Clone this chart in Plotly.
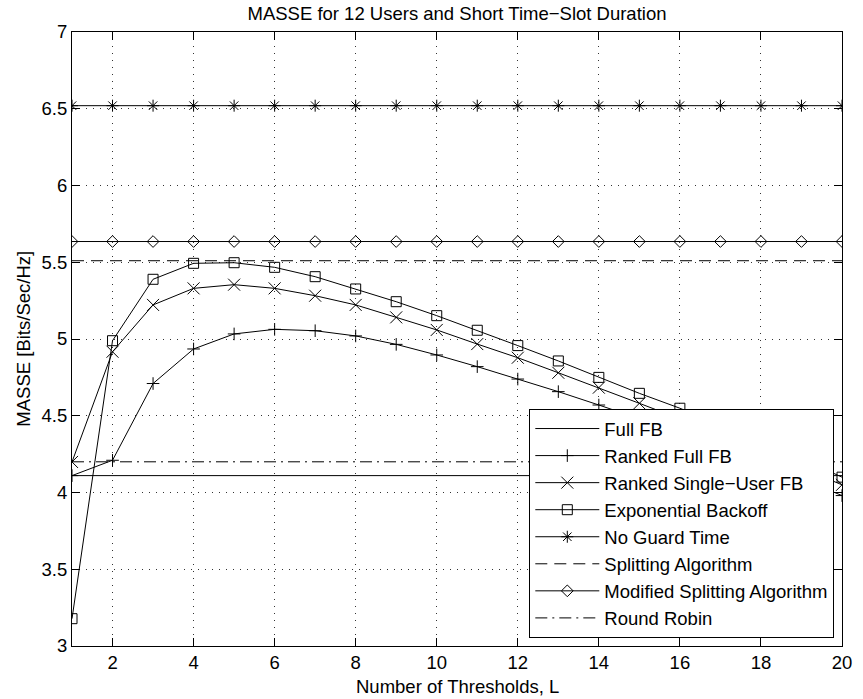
import plotly.graph_objects as go

L = list(range(1, 21))
full_fb = [4.11] * 20
ranked_full_fb = [4.11, 4.21, 4.71, 4.935, 5.033, 5.063, 5.054, 5.020, 4.965, 4.896,
                  4.820, 4.739, 4.657, 4.570, 4.48, 4.39, 4.29, 4.19, 4.09, 3.98]
ranked_single_fb = [4.199, 4.917, 5.222, 5.330, 5.354, 5.330, 5.282, 5.222, 5.141, 5.059,
                    4.967, 4.878, 4.780, 4.683, 4.581, 4.48, 4.38, 4.27, 4.16, 4.05]
exp_backoff = [3.178, 4.989, 5.389, 5.493, 5.497, 5.467, 5.406, 5.326, 5.243, 5.152,
               5.057, 4.957, 4.857, 4.750, 4.646, 4.549, 4.44, 4.33, 4.22, 4.10]
no_guard = [6.52] * 20
splitting = [5.51] * 20
mod_splitting = [5.635] * 20
round_robin = [4.2] * 20

x_ticks = [2, 4, 6, 8, 10, 12, 14, 16, 18, 20]
y_ticks = [3, 3.5, 4, 4.5, 5, 5.5, 6, 6.5, 7]
y_ticktext = ["3", "3.5", "4", "4.5", "5", "5.5", "6", "6.5", "7"]

FONT = "Liberation Sans, Arial, Helvetica, sans-serif"
FS = 18.5
BLK = "black"
W, H = 863, 699
ML, MR, MT, MB = 72, 11, 32, 53
PW, PH = W - ML - MR, H - MT - MB

fig = go.Figure()

def add(name, y, symbol=None, size=10, dash="solid"):
    kw = dict(x=L, y=y, name=name, line=dict(color=BLK, width=1, dash=dash))
    if symbol:
        kw["mode"] = "lines+markers"
        kw["marker"] = dict(symbol=symbol, size=size, color=BLK,
                            line=dict(color=BLK, width=1))
    else:
        kw["mode"] = "lines"
    fig.add_trace(go.Scatter(**kw))

add("Full FB", full_fb)
add("Ranked Full FB", ranked_full_fb, "cross-thin", 9)
add("Ranked Single\u2212User FB", ranked_single_fb, "x-thin", 12)
add("Exponential Backoff", exp_backoff, "square-open", 10)
add("No Guard Time", no_guard, "asterisk", 10)
add("Splitting Algorithm", splitting, None, dash="12px,7px")
add("Modified Splitting Algorithm", mod_splitting, "diamond-open", 9)
add("Round Robin", round_robin, None, dash="12px,5px,2px,5px")

axis_common = dict(
    showline=True, linecolor=BLK, linewidth=1, mirror="ticks",
    ticks="inside", ticklen=8, tickcolor=BLK, tickwidth=1,
    showgrid=True, gridcolor="rgba(0,0,0,0.8)", gridwidth=1, griddash="1px,6px",
    zeroline=False, tickfont=dict(family=FONT, size=FS, color=BLK),
)

fig.update_layout(
    width=W, height=H,
    margin=dict(l=ML, r=MR, t=MT, b=MB),
    paper_bgcolor="white", plot_bgcolor="white",
    font=dict(family=FONT, size=FS, color=BLK),
    title=dict(text="MASSE for 12 Users and Short Time\u2212Slot Duration",
               x=0.5, xref="paper", y=1 - 14 / H, yref="container",
               yanchor="middle", xanchor="center",
               font=dict(family=FONT, size=FS, color=BLK)),
    xaxis=dict(range=[1, 20], tickvals=x_ticks, **axis_common),
    yaxis=dict(range=[3, 7], tickvals=y_ticks, ticktext=y_ticktext, **axis_common),
    legend=dict(x=0.99, xanchor="right", y=0.013, yanchor="bottom",
                bgcolor="white", bordercolor=BLK, borderwidth=1,
                font=dict(family=FONT, size=FS, color=BLK),
                itemwidth=64, tracegroupgap=0),
    showlegend=True,
    annotations=[
        dict(text="Number of Thresholds, L", xref="paper", yref="paper",
             x=0.5, y=-(686 - (MT + PH)) / PH, xanchor="center", yanchor="middle",
             showarrow=False, font=dict(family=FONT, size=FS, color=BLK)),
        dict(text="MASSE [Bits/Sec/Hz]", xref="paper", yref="paper",
             x=-(ML - 22) / PW, y=0.5, xanchor="center", yanchor="middle",
             textangle=-90, showarrow=False,
             font=dict(family=FONT, size=FS, color=BLK)),
    ],
)

# remove the browser's default 8px body margin so the figure fills the window exactly
fig.write_html("out.html",
               config={"displayModeBar": False},
               post_script="document.body.style.margin='0';document.body.style.overflow='hidden';")
